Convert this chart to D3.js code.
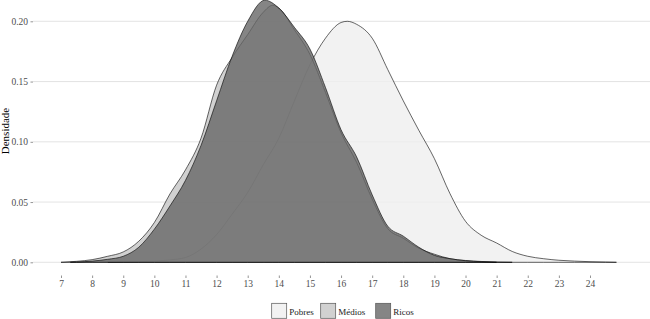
<!DOCTYPE html>
<html>
<head>
<meta charset="utf-8">
<script src="https://cdn.jsdelivr.net/npm/d3@7"></script>
<style>
  body { margin: 0; background: #fff; }
  svg text { font-family: "Liberation Serif", "DejaVu Serif", serif; }
  .tick-label { fill: #4d4d4d; font-size: 9.5px; }
  .legend-text { fill: #1a1a1a; font-size: 9px; }
</style>
</head>
<body>
<svg id="chart"></svg>
<script>
// density curves: [valor, densidade]
const pobres = [[8.5,0],[9,0.0003],[9.5,0.0005],[10,0.001],[10.5,0.002],[11,0.004],[11.5,0.011],[12,0.023],
  [12.5,0.04],[13,0.058],[13.5,0.081],[14,0.103],[14.5,0.134],[15,0.164],[15.5,0.186],[16,0.199],[16.2,0.2],
  [16.5,0.1975],[17,0.186],[17.5,0.16],[18,0.134],[18.5,0.1095],[19,0.086],[19.5,0.057],[20,0.034],
  [20.5,0.0225],[21,0.016],[21.5,0.009],[22,0.005],[22.5,0.003],[23,0.0017],[23.5,0.001],[24,0.0005],
  [24.5,0.0002],[24.85,0]];

const medios = [[7,0],[7.5,0.0008],[8,0.0022],[8.5,0.005],[9,0.0086],[9.5,0.0175],[10,0.033],[10.5,0.0567],
  [11,0.0767],[11.5,0.103],[12,0.147],[12.5,0.17],[13,0.189],[13.5,0.2075],[13.8,0.2133],[14,0.211],
  [14.5,0.193],[15,0.1725],[15.5,0.141],[16,0.1075],[16.5,0.083],[17,0.0525],[17.5,0.028],[18,0.02],
  [18.5,0.0117],[19,0.0067],[19.5,0.003],[20,0.0015],[20.5,0.0007],[21,0.0002],[21.5,0]];

const ricos = [[7.3,0],[7.5,0.0002],[8,0.001],[8.5,0.0025],[9,0.005],[9.5,0.0125],[10,0.0275],[10.5,0.0467],
  [11,0.068],[11.5,0.097],[12,0.134],[12.5,0.171],[13,0.2],[13.55,0.2175],[14,0.211],[14.5,0.195],
  [15,0.177],[15.5,0.145],[16,0.11],[16.5,0.0875],[17,0.056],[17.5,0.03],[18,0.0217],[18.5,0.0125],
  [19,0.0058],[19.5,0.003],[20,0.0013],[20.5,0.0005],[21,0]];

const groups = ['Pobres', 'Médios', 'Ricos'];
const fills = ['#efefef', '#c6c6c6', '#666666'];
const xTicks = d3.range(7, 25);
const yTicks = [0, 0.05, 0.10, 0.15, 0.20];

const width = 650, height = 319;
const serif = '"Liberation Serif", "DejaVu Serif", serif';

const svg = d3.select('#chart')
    .attr('width', width)
    .attr('height', height);

// scales
const xScale = d3.scaleLinear().domain([7, 24]).range([61, 590]);
const yScale = d3.scaleLinear().domain([0, 0.2]).range([262.3, 21.3]);
const colorScale = d3.scaleOrdinal().domain(groups).range(fills);

// horizontal gridlines
svg.append('g')
  .selectAll('line')
  .data(yTicks)
  .join('line')
    .attr('x1', 33)
    .attr('x2', width)
    .attr('y1', d => yScale(d))
    .attr('y2', d => yScale(d))
    .attr('stroke', '#dcdcdc')
    .attr('stroke-width', 0.8);

// y axis
const yAxisG = svg.append('g')
    .attr('transform', 'translate(33,0)')
    .call(d3.axisLeft(yScale).tickValues(yTicks).tickFormat(d3.format('.2f')).tickSize(2.5).tickPadding(2.5));
yAxisG.attr('font-family', serif).attr('font-size', 9.5);
yAxisG.select('.domain').remove();
yAxisG.selectAll('line').attr('stroke', '#4d4d4d').attr('stroke-width', 0.6);
yAxisG.selectAll('text').attr('class', 'tick-label').style('font-family', serif);

// x axis
const xAxisG = svg.append('g')
    .attr('transform', 'translate(0,275.5)')
    .call(d3.axisBottom(xScale).tickValues(xTicks).tickFormat(d3.format('d')).tickSize(2.5).tickPadding(2.5));
xAxisG.attr('font-family', serif).attr('font-size', 9.5);
xAxisG.select('.domain').remove();
xAxisG.selectAll('line').attr('stroke', '#4d4d4d').attr('stroke-width', 0.6);
xAxisG.selectAll('text').attr('class', 'tick-label').style('font-family', serif);

// y label
svg.append('text')
    .attr('transform', 'translate(9,131) rotate(-90)')
    .attr('text-anchor', 'middle')
    .style('font-family', serif)
    .attr('font-size', 11)
    .attr('fill', '#000')
    .text('Densidade');

// density areas
const area = d3.area()
    .x(d => xScale(d[0]))
    .y0(yScale(0))
    .y1(d => yScale(d[1]))
    .curve(d3.curveMonotoneX);

svg.append('g')
  .selectAll('path')
  .data([pobres, medios, ricos])
  .join('path')
    .attr('d', d => area(d) + 'Z')
    .attr('fill', (d, i) => colorScale(groups[i]))
    .attr('fill-opacity', 0.8)
    .attr('stroke', '#000')
    .attr('stroke-width', 0.6);

// legend
const legend = svg.append('g').attr('transform', 'translate(0,303.3)');
const legendX = [271.7, 320.7, 375.7];

legend.selectAll('rect')
  .data(groups)
  .join('rect')
    .attr('x', (d, i) => legendX[i])
    .attr('y', 0)
    .attr('width', 15)
    .attr('height', 15)
    .attr('fill', d => colorScale(d))
    .attr('fill-opacity', 0.8)
    .attr('stroke', '#555')
    .attr('stroke-width', 0.7);

legend.selectAll('text')
  .data(groups)
  .join('text')
    .attr('class', 'legend-text')
    .style('font-family', serif)
    .attr('x', (d, i) => legendX[i] + 17.5)
    .attr('y', 11.3)
    .text(d => d);
</script>
</body>
</html>
